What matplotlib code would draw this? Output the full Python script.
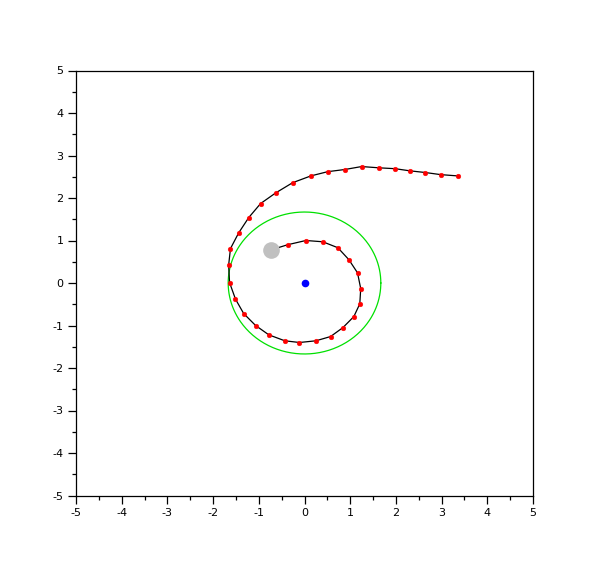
import numpy as np
import matplotlib
matplotlib.use("Agg")
import matplotlib.pyplot as plt

plt.rcParams['axes.unicode_minus'] = False

# trajectory points (red markers), from outer end inward
traj_x = [3.35, 2.98, 2.64, 2.30, 1.98, 1.63, 1.25, 0.88, 0.51, 0.14, -0.26, -0.63,
          -0.96, -1.22, -1.44, -1.62, -1.66, -1.64, -1.51, -1.33, -1.07, -0.78, -0.43,
          -0.11, 0.25, 0.57, 0.84, 1.08, 1.21, 1.23, 1.16, 0.97, 0.73, 0.40, 0.03, -0.37]
traj_y = [2.52, 2.55, 2.60, 2.64, 2.69, 2.71, 2.74, 2.67, 2.62, 2.52, 2.36, 2.12,
          1.87, 1.54, 1.18, 0.81, 0.42, 0.01, -0.38, -0.72, -1.00, -1.22, -1.36,
          -1.40, -1.36, -1.26, -1.05, -0.79, -0.49, -0.13, 0.24, 0.55, 0.83, 0.97, 1.00, 0.90]
# start point (gray disk)
start_x = [-0.73]
start_y = [0.78]
# center (blue) and green circle radius
center_x = [0.0]
center_y = [0.0]
circle_r = 1.67

fig = plt.figure(figsize=(6.10, 5.67), dpi=100)
ax = fig.add_axes([76/610, 1-495.5/567, (533-76)/610, (495.5-70.5)/567])

line_x = traj_x + start_x
line_y = traj_y + start_y
ax.plot(line_x, line_y, color='black', lw=0.9, zorder=2)
ax.plot(traj_x, traj_y, 'o', color='red', ms=3.4, mec='red', mew=0.3, zorder=3)
ax.plot(start_x, start_y, 'o', color='#c0c0c0', ms=12, mec='none', zorder=4)

t = np.linspace(0, 2*np.pi, 400)
ax.plot(center_x[0] + circle_r*np.cos(t), center_y[0] + circle_r*np.sin(t), color='#00e000', lw=0.9, zorder=1)
ax.plot(center_x, center_y, 'o', color='blue', ms=5.5, mec='none', zorder=4)

ax.set_xlim(-5, 5)
ax.set_ylim(-5, 5)
ax.set_xticks(range(-5, 6))
ax.set_yticks(range(-5, 6))
ax.set_xticks(np.arange(-4.5, 5, 1.0), minor=True)
ax.set_yticks(np.arange(-4.5, 5, 1.0), minor=True)
ax.tick_params(which='major', direction='out', length=6, width=0.9, labelsize=8, pad=3)
ax.tick_params(which='minor', direction='out', length=3, width=0.9)
ax.tick_params(top=False, right=False)
for s in ax.spines.values():
    s.set_linewidth(0.9)

fig.savefig('out.png', dpi=100)
